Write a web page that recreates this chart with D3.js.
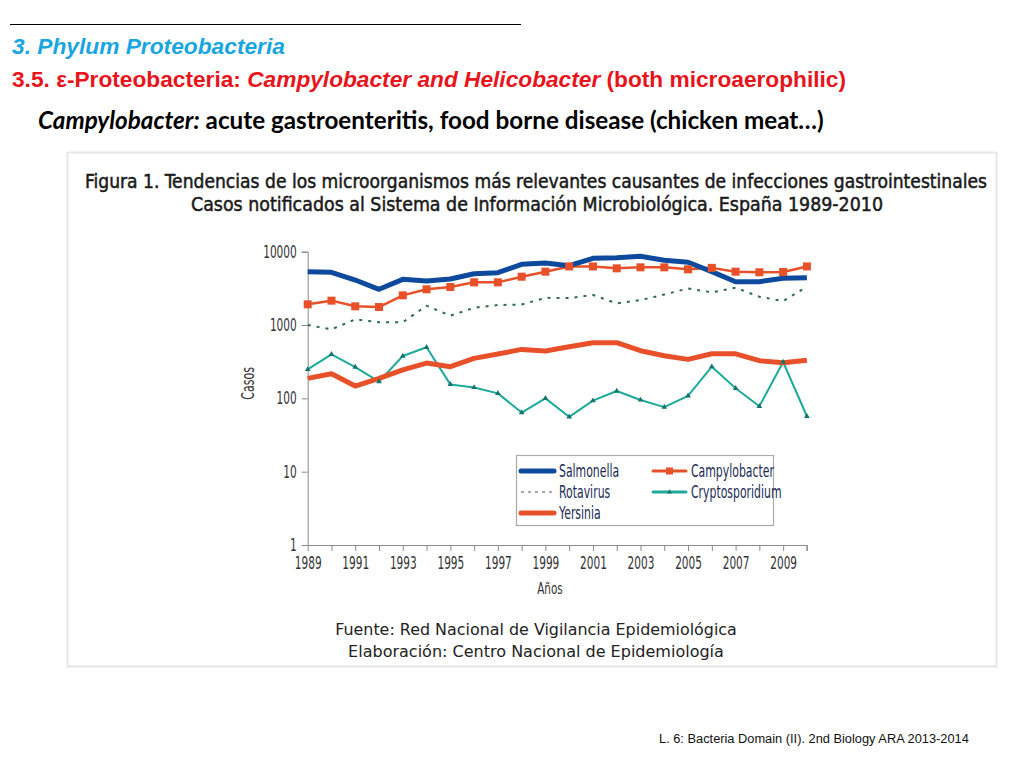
<!DOCTYPE html>
<html><head><meta charset="utf-8">
<script src="https://cdn.jsdelivr.net/npm/d3@7"></script>
<style>body{margin:0;background:#fff;}svg{display:block;}</style>
</head><body>
<svg id="c" width="1024" height="768"></svg>
<script>
const years = d3.range(1989, 2011);
const salmonella = [5340,5240,4110,3070,4200,3980,4240,5010,5180,6730,7010,6440,8130,8280,8650,7630,7170,5340,3900,3900,4340,4420];
const campylobacter = [1915,2150,1800,1760,2540,3070,3300,3820,3820,4560,5340,6300,6300,5930,6120,6120,5750,6020,5340,5240,5290,6300];
const rotavirus = [1000,873,1195,1090,1090,1830,1340,1720,1875,1900,2350,2330,2570,1975,2190,2600,3160,2790,3230,2430,2120,3330];
const cryptosporidium = [248,398,267,169,378,497,155,141,117,64,100,56,93,126,95,76,108,270,137,78,313,57];
const yersinia = [187,217,147,187,245,303,270,351,402,465,442,506,574,574,446,381,340,405,405,326,306,330];
const yTicks = [1,10,100,1000,10000];
const xLabelYears = d3.range(1989, 2010, 2);

const svg = d3.select("#c");

function fitText(sel, w) {
  const n = sel.node();
  const fs = parseFloat(sel.attr("font-size"));
  const len = n.getComputedTextLength();
  if (len > 0) sel.attr("font-size", (fs * w / len).toFixed(2));
  return sel;
}
// narrow the glyphs horizontally to imitate a condensed face
function condense(sel, factor) {
  sel.each(function() {
    const len = this.getComputedTextLength();
    if (len > 0) d3.select(this).attr("textLength", (len * factor).toFixed(1)).attr("lengthAdjust", "spacingAndGlyphs");
  });
  return sel;
}

// header
svg.append("line").attr("x1",10).attr("x2",521).attr("y1",24.5).attr("y2",24.5).attr("stroke","#000").attr("stroke-width",1);
fitText(svg.append("text").attr("x",12).attr("y",54).attr("font-family","Liberation Sans, Arial").attr("font-size",19)
  .attr("font-weight","bold").attr("font-style","italic").attr("fill","#19a6e0").text("3. Phylum Proteobacteria"), 273);
const h2 = svg.append("text").attr("x",12).attr("y",87).attr("font-family","Liberation Sans, Arial").attr("font-size",19)
  .attr("font-weight","bold").attr("fill","#e8141c");
h2.append("tspan").text("3.5. ε-Proteobacteria: ");
h2.append("tspan").attr("font-style","italic").text("Campylobacter and Helicobacter");
h2.append("tspan").text(" (both microaerophilic)");
fitText(h2, 834);
const h3 = svg.append("text").attr("x",38).attr("y",129).attr("font-family","Lato, 'Open Sans', sans-serif").attr("font-size",22)
  .attr("font-weight","bold").attr("fill","#000");
h3.append("tspan").attr("font-style","italic").text("Campylobacter:");
h3.append("tspan").text(" acute gastroenteritis, food borne disease (chicken meat…)");
fitText(h3, 786);

// figure panel
svg.append("rect").attr("x",67.5).attr("y",152.5).attr("width",929).attr("height",514)
  .attr("fill","#fff").attr("stroke","#e6e6e6").attr("stroke-width",2);

const tf = "'DejaVu Sans', sans-serif";
const cf = "'DejaVu Sans Condensed', 'DejaVu Sans', sans-serif";
function titleLine(txt, cx, yy, w) {
  const t = svg.append("text").attr("x",cx).attr("y",yy).attr("text-anchor","middle")
    .attr("font-family",cf).attr("font-stretch","condensed").attr("font-size",21)
    .attr("fill","#1a1a1a").attr("stroke","#1a1a1a").attr("stroke-width",0.5).text(txt);
  const len = t.node().getComputedTextLength();
  if (len > w * 1.04) t.attr("font-size", (21 * w * 1.04 / len).toFixed(2));
  t.attr("textLength", w).attr("lengthAdjust","spacingAndGlyphs");
  return t;
}
titleLine("Figura 1.  Tendencias de los microorganismos más relevantes causantes de infecciones gastrointestinales", 536, 188, 902);
titleLine("Casos notificados al Sistema de Información Microbiológica. España 1989-2010", 537, 211, 692);

// scales
const x = d3.scaleLinear().domain([1989, 2010]).range([307.7, 806.9]);
const y = d3.scaleLog().domain([1, 10000]).range([545, 251.7]);

const yAxis = d3.axisLeft(y).tickValues(yTicks).tickFormat(d3.format("d")).tickSize(6).tickPadding(5);
const gy = svg.append("g").attr("transform", `translate(${x(1989)},0)`).call(yAxis);
gy.select(".domain").attr("stroke","#8a8a8a");
gy.selectAll(".tick line").attr("stroke","#8a8a8a");
gy.selectAll(".tick text").attr("font-family",tf).attr("font-size",17).attr("fill","#333").call(condense, 0.62);

const xAxis = d3.axisBottom(x).tickValues(years).tickSize(6).tickPadding(6)
  .tickFormat(d => xLabelYears.includes(d) ? String(d) : "");
const gx = svg.append("g").attr("transform", `translate(0,${y(1)})`).call(xAxis);
gx.select(".domain").attr("stroke","#8a8a8a").attr("d", `M${x(1989)},0.5H${x(2010)}V6`);
gx.selectAll(".tick line").attr("stroke","#8a8a8a");
gx.selectAll(".tick text").attr("font-family",tf).attr("font-size",17).attr("fill","#333").call(condense, 0.62);

condense(svg.append("text").attr("transform",`translate(254,${y(160)}) rotate(-90)`).attr("text-anchor","middle")
  .attr("font-family",tf).attr("font-size",17).attr("fill","#333").text("Casos"), 0.65);
condense(svg.append("text").attr("x",550).attr("y",594).attr("text-anchor","middle")
  .attr("font-family",tf).attr("font-size",16).attr("fill","#333").text("Años"), 0.65);

// series
const line = d3.line().x((d,i) => x(years[i])).y(d => y(d));
const series = [
  {name:"Rotavirus", data:rotavirus, color:"#2e6b4c", width:2, dash:"3,6"},
  {name:"Cryptosporidium", data:cryptosporidium, color:"#1eaa9b", width:2},
  {name:"Yersinia", data:yersinia, color:"#e8502a", width:5},
  {name:"Campylobacter", data:campylobacter, color:"#e8502a", width:2.5},
  {name:"Salmonella", data:salmonella, color:"#0d4a9e", width:5}
];
series.forEach(s => {
  svg.append("path").datum(s.data).attr("d", line).attr("fill","none").attr("stroke", s.color)
    .attr("stroke-width", s.width).attr("stroke-linejoin","round").attr("stroke-dasharray", s.dash || null);
});
svg.append("g").selectAll("rect").data(campylobacter).join("rect")
  .attr("x",(d,i)=>x(years[i])-4).attr("y",d=>y(d)-4).attr("width",8).attr("height",8).attr("fill","#e8502a");
const tri = d3.symbol().type(d3.symbolTriangle).size(14);
svg.append("g").selectAll("path").data(cryptosporidium).join("path")
  .attr("transform",(d,i)=>`translate(${x(years[i])},${y(d)})`).attr("d",tri).attr("fill","#16756b");

// legend
const lg = svg.append("g");
lg.append("rect").attr("x",516.5).attr("y",455.5).attr("width",257).attr("height",70).attr("fill","#fff").attr("stroke","#aaa").attr("stroke-width",1.2);
const legendItems = [
  {name:"Salmonella", x:521, y:471, color:"#0d4a9e", width:5},
  {name:"Rotavirus", x:521, y:492, color:"#555", width:1.2, dash:"3,4"},
  {name:"Yersinia", x:521, y:513, color:"#e8502a", width:5},
  {name:"Campylobacter", x:653, y:471, color:"#e8502a", width:3, marker:"sq"},
  {name:"Cryptosporidium", x:653, y:492, color:"#1eaa9b", width:3, marker:"tri"}
];
legendItems.forEach(it => {
  lg.append("line").attr("x1",it.x).attr("x2",it.x+33).attr("y1",it.y).attr("y2",it.y)
    .attr("stroke",it.color).attr("stroke-width",it.width).attr("stroke-linecap", it.dash ? "butt" : "round")
    .attr("stroke-dasharray", it.dash || null);
  if (it.marker==="sq") lg.append("rect").attr("x",it.x+13).attr("y",it.y-3.5).attr("width",7).attr("height",7).attr("fill",it.color);
  if (it.marker==="tri") lg.append("path").attr("transform",`translate(${it.x+16.5},${it.y})`).attr("d",d3.symbol().type(d3.symbolTriangle).size(10)).attr("fill","#16756b");
  condense(lg.append("text").attr("x",it.x+38).attr("y",it.y+6).attr("font-family",tf).attr("font-size",17).attr("fill","#1a2a55").text(it.name), 0.64);
});

// source
const sf = "'DejaVu Sans', sans-serif";
fitText(svg.append("text").attr("x",536).attr("y",635).attr("text-anchor","middle").attr("font-family",sf).attr("font-size",18)
  .attr("fill","#222").text("Fuente: Red Nacional de Vigilancia Epidemiológica"), 402);
fitText(svg.append("text").attr("x",536).attr("y",657).attr("text-anchor","middle").attr("font-family",sf).attr("font-size",18)
  .attr("fill","#222").text("Elaboración: Centro Nacional de Epidemiología"), 376);

// footer
fitText(svg.append("text").attr("x",659).attr("y",743).attr("font-family","Liberation Sans, Arial").attr("font-size",12)
  .attr("fill","#111").text("L. 6: Bacteria Domain (II). 2nd Biology ARA 2013-2014"), 310);
</script>
</body></html>
